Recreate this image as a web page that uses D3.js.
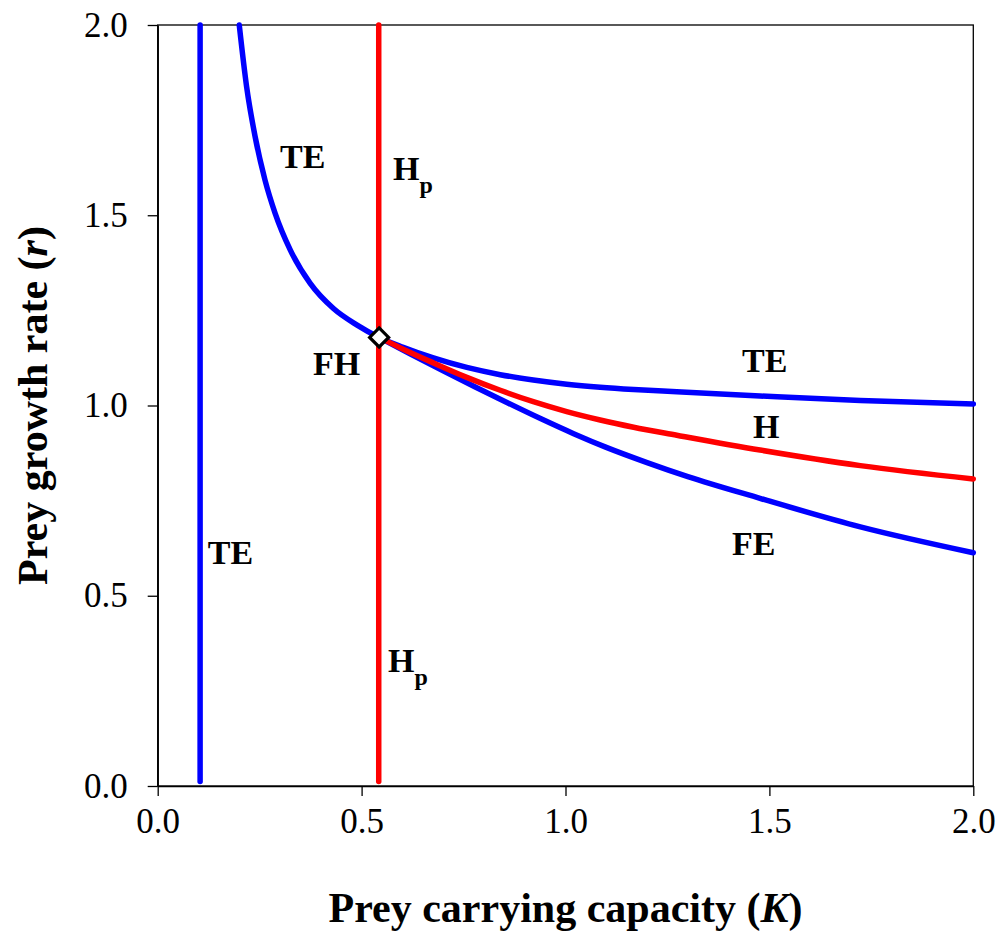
<!DOCTYPE html>
<html>
<head>
<meta charset="utf-8">
<script src="https://cdn.jsdelivr.net/npm/d3@7"></script>
<style>
  html, body { margin: 0; padding: 0; background: #fff; }
  svg { display: block; font-family: "Liberation Serif", "Times New Roman", serif; }
</style>
</head>
<body>
<svg id="chart" width="1001" height="933"></svg>
<script>
// ---- data ----
const xTicks = [0.0, 0.5, 1.0, 1.5, 2.0];
const yTicks = [0.0, 0.5, 1.0, 1.5, 2.0];

// vertical boundaries (K constant)
const teVerticalK = 0.104;
const hpVerticalK = 0.542;
const verticalR = [0.012, 2.0];

// upper blue boundary (TE)
const upperK = [0.200, 0.218, 0.239, 0.263, 0.288, 0.325, 0.374, 0.431, 0.488, 0.543, 0.602, 0.676, 0.758, 0.840, 0.921, 1.003, 1.085, 1.167, 1.273, 1.477, 1.723, 2.000];
const upperR = [2.000, 1.838, 1.706, 1.593, 1.505, 1.409, 1.321, 1.255, 1.212, 1.179, 1.153, 1.125, 1.100, 1.081, 1.067, 1.056, 1.048, 1.042, 1.036, 1.025, 1.013, 1.004];

// red Hopf boundary (H)
const hopfK = [0.543, 0.602, 0.676, 0.758, 0.840, 0.921, 1.003, 1.085, 1.167, 1.273, 1.477, 1.723, 2.000];
const hopfR = [1.179, 1.148, 1.112, 1.074, 1.040, 1.010, 0.984, 0.962, 0.943, 0.922, 0.883, 0.842, 0.807];

// lower blue boundary (FE)
const lowerK = [0.543, 0.620, 0.700, 0.780, 0.860, 0.940, 1.020, 1.100, 1.200, 1.300, 1.477, 1.723, 2.000];
const lowerR = [1.179, 1.135, 1.091, 1.048, 1.006, 0.965, 0.926, 0.890, 0.850, 0.813, 0.756, 0.681, 0.613];

// codimension-two point
const pointK = 0.543;
const pointR = 1.179;

// region labels (text, subscript, K, r)
const labelText = ["TE", "H", "FH", "TE", "H", "FE", "TE", "H"];
const labelSub  = ["",   "p", "",   "",   "",  "",   "",   "p"];
const labelK    = [0.300, 0.577, 0.381, 1.433, 1.460, 1.408, 0.123, 0.565];
const labelR    = [1.623, 1.593, 1.080, 1.089, 0.914, 0.607, 0.583, 0.300];

// ---- layout ----
const svg = d3.select("#chart");
const mLeft = 157.7, mRight = 973.3, mTop = 25, mBottom = 786;

const x = d3.scaleLinear().domain([0, 2]).range([mLeft, mRight]);
const y = d3.scaleLinear().domain([0, 2]).range([mBottom, mTop]);

// frame
svg.append("rect")
  .attr("x", mLeft).attr("y", mTop)
  .attr("width", mRight - mLeft).attr("height", mBottom - mTop)
  .attr("fill", "none").attr("stroke", "#000").attr("stroke-width", 1.3);

// axes
const fmt = d3.format(".1f");
const xAxis = svg.append("g")
  .attr("transform", `translate(0,${mBottom})`)
  .call(d3.axisBottom(x).tickValues(xTicks).tickFormat(fmt).tickSize(10).tickSizeOuter(0).tickPadding(12));
const yAxis = svg.append("g")
  .attr("transform", `translate(${mLeft},0)`)
  .call(d3.axisLeft(y).tickValues(yTicks).tickFormat(fmt).tickSize(10).tickSizeOuter(0).tickPadding(20));

[xAxis, yAxis].forEach(g => {
  g.select(".domain").attr("stroke", "#000").attr("stroke-width", 1.5);
  g.selectAll(".tick line").attr("stroke", "#000").attr("stroke-width", 1.3);
  g.selectAll(".tick text")
    .attr("fill", "#000")
    .style("font-family", "'Liberation Serif', 'Times New Roman', serif")
    .style("font-size", "35px");
});
xAxis.selectAll(".tick text").attr("dy", "0.71em");

// axis titles
const xt = svg.append("text")
  .attr("x", (mLeft + mRight) / 2).attr("y", 922)
  .attr("text-anchor", "middle")
  .style("font-size", "42px").style("font-weight", "bold");
xt.append("tspan").text("Prey carrying capacity (");
xt.append("tspan").style("font-style", "italic").text("K");
xt.append("tspan").text(")");

const yt = svg.append("text")
  .attr("transform", `translate(47,${(mTop + mBottom) / 2}) rotate(-90)`)
  .attr("text-anchor", "middle")
  .style("font-size", "42px").style("font-weight", "bold");
yt.append("tspan").text("Prey growth rate (");
yt.append("tspan").style("font-style", "italic").text("r");
yt.append("tspan").text(")");

// lines
const line = d3.line().x(d => x(d[0])).y(d => y(d[1])).curve(d3.curveMonotoneX);
const zip = (a, b) => a.map((v, i) => [v, b[i]]);

const plot = svg.append("g");
function drawLine(pts, color) {
  plot.append("path")
    .attr("d", line(pts))
    .attr("fill", "none")
    .attr("stroke", color)
    .attr("stroke-width", 5.5)
    .attr("stroke-linecap", "round")
    .attr("stroke-linejoin", "round");
}

drawLine(verticalR.map(r => [teVerticalK, r]), "#0000ff");
drawLine(zip(upperK, upperR), "#0000ff");
drawLine(zip(lowerK, lowerR), "#0000ff");
drawLine(verticalR.map(r => [hpVerticalK, r]), "#ff0000");
drawLine(zip(hopfK, hopfR), "#ff0000");

// diamond marker
const s = 9.5;
plot.append("path")
  .attr("transform", `translate(${x(pointK)},${y(pointR)})`)
  .attr("d", `M0,${-s}L${s},0L0,${s}L${-s},0Z`)
  .attr("fill", "#fff")
  .attr("stroke", "#000")
  .attr("stroke-width", 3.2)
  .attr("stroke-linejoin", "miter");

// region labels
labelText.forEach((t, i) => {
  const tx = svg.append("text")
    .attr("x", x(labelK[i])).attr("y", y(labelR[i]))
    .style("font-size", "34px").style("font-weight", "bold");
  tx.append("tspan").text(t);
  if (labelSub[i]) {
    tx.append("tspan")
      .attr("dy", 13)
      .style("font-size", "24px")
      .text(labelSub[i]);
  }
});
</script>
</body>
</html>
